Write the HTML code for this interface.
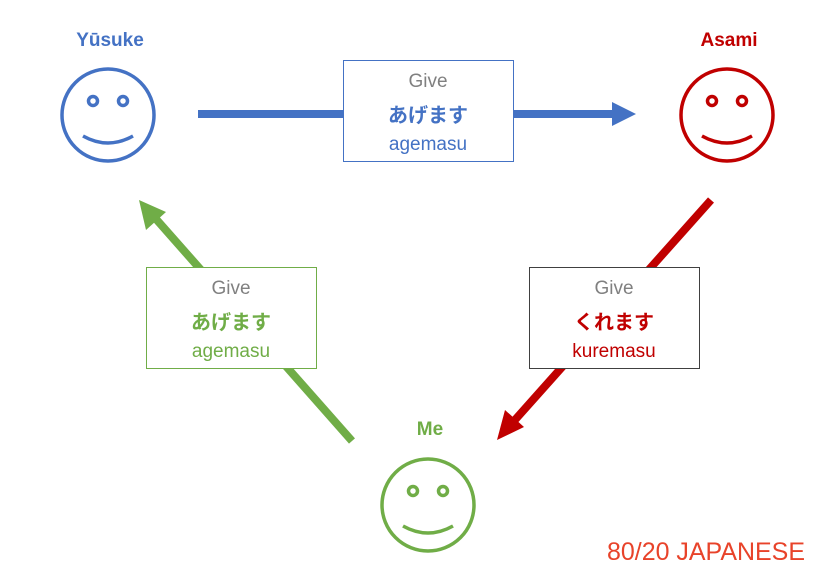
<!DOCTYPE html>
<html><head><meta charset="utf-8"><style>
body{margin:0;background:#fff;width:835px;height:584px;overflow:hidden}
svg{display:block}
text{font-family:"Liberation Sans","Noto Sans CJK JP",sans-serif}
</style></head><body>
<svg width="835" height="584" viewBox="0 0 835 584">
<line x1="198" y1="114" x2="614" y2="114" stroke="#4472c4" stroke-width="8"/>
<polygon points="636,114 612,102 612,126" fill="#4472c4"/>
<line x1="711" y1="200" x2="514" y2="421" stroke="#c00000" stroke-width="8"/>
<polygon points="497,440 505,410 524,427" fill="#c00000"/>
<line x1="352" y1="441" x2="156" y2="219" stroke="#70ad47" stroke-width="8"/>
<polygon points="139,200 146,230 166,212" fill="#70ad47"/>
<rect x="343.5" y="60.5" width="170" height="101" fill="#fff" stroke="#4472c4"/>
<text x="428" y="87" font-size="19" fill="#808080" text-anchor="middle">Give</text>
<text x="428" y="122" font-size="20" font-weight="bold" fill="#4472c4" text-anchor="middle">あげます</text>
<text x="428" y="150" font-size="19" fill="#4472c4" text-anchor="middle">agemasu</text>
<rect x="146.5" y="267.5" width="170" height="101" fill="#fff" stroke="#70ad47"/>
<text x="231" y="294" font-size="19" fill="#808080" text-anchor="middle">Give</text>
<text x="231" y="329" font-size="20" font-weight="bold" fill="#70ad47" text-anchor="middle">あげます</text>
<text x="231" y="357" font-size="19" fill="#70ad47" text-anchor="middle">agemasu</text>
<rect x="529.5" y="267.5" width="170" height="101" fill="#fff" stroke="#404040"/>
<text x="614" y="294" font-size="19" fill="#808080" text-anchor="middle">Give</text>
<text x="614" y="329" font-size="20" font-weight="bold" fill="#c00000" text-anchor="middle">くれます</text>
<text x="614" y="357" font-size="19" fill="#c00000" text-anchor="middle">kuremasu</text>
<g fill="none" stroke="#4472c4" stroke-width="3.5">
<circle cx="108" cy="115" r="46"/><circle cx="93" cy="101" r="4.5"/><circle cx="123" cy="101" r="4.5"/>
<path d="M83,136 Q108,150 133,136"/></g>
<g fill="none" stroke="#c00000" stroke-width="3.5">
<circle cx="727" cy="115" r="46"/><circle cx="712" cy="101" r="4.5"/><circle cx="742" cy="101" r="4.5"/>
<path d="M702,136 Q727,150 752,136"/></g>
<g fill="none" stroke="#70ad47" stroke-width="3.5">
<circle cx="428" cy="505" r="46"/><circle cx="413" cy="491" r="4.5"/><circle cx="443" cy="491" r="4.5"/>
<path d="M403,526 Q428,540 453,526"/></g>
<text x="110" y="46" font-size="19" font-weight="bold" fill="#4472c4" text-anchor="middle">Yūsuke</text>
<text x="729" y="46" font-size="19" font-weight="bold" fill="#c00000" text-anchor="middle">Asami</text>
<text x="430" y="435" font-size="19" font-weight="bold" fill="#70ad47" text-anchor="middle">Me</text>
<text x="607" y="560" font-size="25" fill="#e8432a" textLength="198" lengthAdjust="spacingAndGlyphs">80/20 JAPANESE</text>
</svg>
</body></html>
